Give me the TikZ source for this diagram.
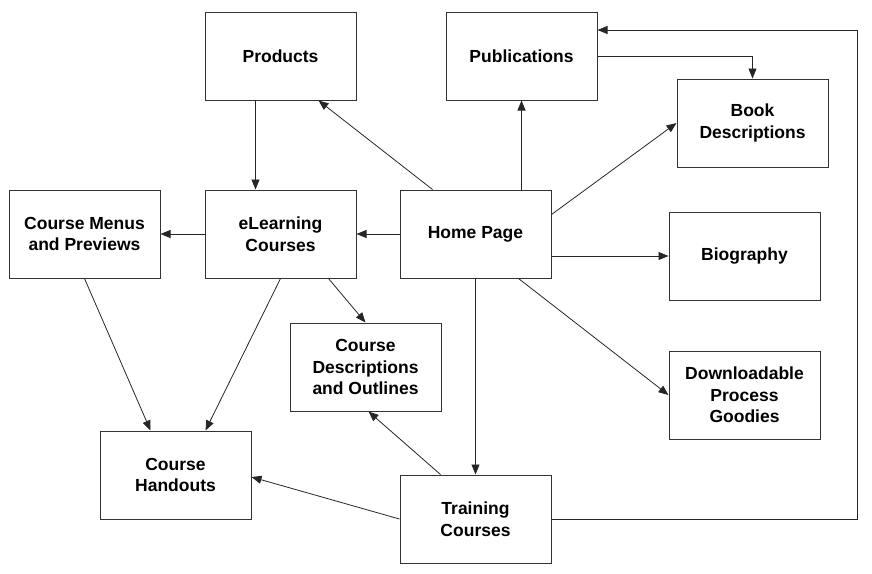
\documentclass[tikz,border=0pt]{standalone}
\usepackage{fontspec}
\setmainfont{Liberation Sans}
\usepackage{tikz}
\usetikzlibrary{arrows.meta}
\usetikzlibrary{positioning}

\begin{document}
\begin{tikzpicture}[
      x=1pt, y=-1pt,
      page/.style ={rectangle, draw=black!80, line width=1pt, fill=white, align=center,
                    minimum width=151pt, minimum height=88pt,
                    font=\fontsize{17.5}{21.5}\selectfont\bfseries},
      link/.style ={-{Triangle[length=10pt,width=8pt]}, line width=0.8pt, draw=black!85}
    ]
    \useasboundingbox (0,0) rectangle (872,573);

    \node [page] (prod) at (280.5,56) {Products} ;
    \node [page] (pub) at (521.5,56) {Publications} ;
    \node [page] (book) at (752.5,123) {Book\\Descriptions} ;
    \node [page] (menus) at (84.5,234) {Course Menus\\and Previews} ;
    \node [page] (elearn) at (280.5,234) {eLearning\\Courses} ;
    \node [page] (home) at (475.5,234) {Home Page} ;
    \node [page] (bio) at (744.5,256) {Biography} ;
    \node [page] (desc) at (365.5,367) {Course\\Descriptions\\and Outlines} ;
    \node [page] (goodies) at (744.5,395) {Downloadable\\Process\\Goodies} ;
    \node [page] (hand) at (175.5,475) {Course\\Handouts} ;
    \node [page] (train) at (475.5,519) {Training\\Courses} ;
    \coordinate (back) at (857,30) ;

    \draw [link] ([xshift=33pt]home.north west) -- ([xshift=-38pt]prod.south east) ;
    \draw [link] (pub.south |- home.north) -- (pub.south) ;
    \draw [link] (pub.east) -| (book.north) ;
    \draw [link] ([yshift=-25pt]home.north east) -- (book.west) ;
    \draw [link] (bio.west -| home.east) -- (bio.west) ;
    \draw [link] ([xshift=-33pt]home.south east) -- (goodies.west) ;
    \draw [link] (home.west) -- (elearn.east) ;
    \draw [link] (home.south) -- (train.north) ;
    \draw [link] ([xshift=-25pt]prod.south) -- ([xshift=-25pt]elearn.north) ;
    \draw [link] (elearn.west) -- (menus.east) ;
    \draw [link] ([xshift=-28pt]elearn.south east) -- (desc.north) ;
    \draw [link] (elearn.south) -- ([xshift=30pt]hand.north) ;
    \draw [link] (menus.south) -- ([xshift=-25pt]hand.north) ;
    \draw [link] ([xshift=41pt]train.north west) -- ([xshift=3pt]desc.south) ;
    \draw [link] (train.west) -- ([yshift=-2pt]hand.east) ;
    \draw [link] (train.east) -| (back) -- (back -| pub.east) ;
  \end{tikzpicture}
\end{document}
